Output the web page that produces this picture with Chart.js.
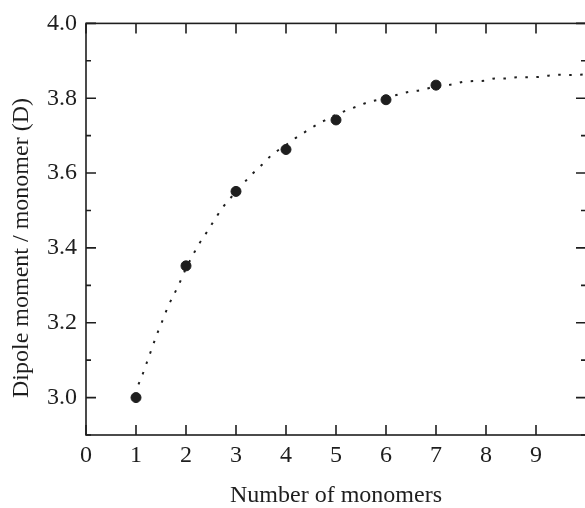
<!DOCTYPE html>
<html>
<head>
<meta charset="utf-8">
<script src="https://cdn.jsdelivr.net/npm/chart.js@4.4.1/dist/chart.umd.min.js"></script>
<style>
  html, body { margin: 0; padding: 0; background: #fff; overflow: hidden; }
  #wrap { width: 585px; height: 508px; overflow: hidden; }
</style>
</head>
<body>
<div id="wrap"><canvas id="dipoleChart" width="592" height="508"></canvas></div>
<script>
// Ticks
const xTickValues = [0, 1, 2, 3, 4, 5, 6, 7, 8, 9, 10];
const yTickValues = [3.0, 3.2, 3.4, 3.6, 3.8, 4.0];
const yMinorValues = [2.9, 3.1, 3.3, 3.5, 3.7, 3.9];

// Calculated points
const monomers = [1, 2, 3, 4, 5, 6, 7];
const dipole = [3.0, 3.352, 3.551, 3.663, 3.742, 3.796, 3.835];

// Fitted curve
const fitX = [1.05, 1.14, 1.22, 1.30, 1.38, 1.45, 1.55, 1.63, 1.85, 2.0, 2.26, 2.44, 2.58, 2.74, 3.0,
              3.32, 3.52, 3.72, 4.0, 4.15, 4.37, 4.56, 4.78, 5.0, 5.2, 5.42, 5.63, 6.0, 6.27, 6.49,
              6.71, 7.0, 7.33, 7.55, 7.77, 7.99, 8.18, 8.40, 8.62, 8.84, 9.06, 9.27, 9.47, 9.67, 9.87, 10.0];
const fitY = [3.035, 3.065, 3.095, 3.125, 3.155, 3.18, 3.212, 3.24, 3.30, 3.345, 3.41, 3.447, 3.477, 3.509, 3.55,
              3.597, 3.622, 3.649, 3.675, 3.69, 3.709, 3.725, 3.741, 3.756, 3.767, 3.778, 3.789, 3.80, 3.811, 3.818,
              3.822, 3.832, 3.837, 3.844, 3.846, 3.847, 3.853, 3.853, 3.856, 3.856, 3.857, 3.861, 3.863, 3.862, 3.863, 3.864];

const inkColor = '#1e1e1e';
const serif = "'Liberation Serif', 'DejaVu Serif', serif";

// Frame, inward ticks and the vertical axis title
const frameTicks = {
    id: 'frameTicks',
    afterDraw(chart) {
        const ctx = chart.ctx;
        const area = chart.chartArea;
        const xs = chart.scales.x;
        const ys = chart.scales.y;
        ctx.save();
        ctx.strokeStyle = inkColor;
        ctx.lineWidth = 1.6;
        ctx.strokeRect(area.left, area.top, area.right - area.left, area.bottom - area.top);

        ctx.beginPath();
        xTickValues.forEach(v => {
            const px = xs.getPixelForValue(v);
            ctx.moveTo(px, area.bottom); ctx.lineTo(px, area.bottom - 10);
            ctx.moveTo(px, area.top); ctx.lineTo(px, area.top + 10);
        });
        yTickValues.forEach(v => {
            const py = ys.getPixelForValue(v);
            ctx.moveTo(area.left, py); ctx.lineTo(area.left + 10, py);
            ctx.moveTo(area.right, py); ctx.lineTo(area.right - 10, py);
        });
        yMinorValues.forEach(v => {
            const py = ys.getPixelForValue(v);
            ctx.moveTo(area.left, py); ctx.lineTo(area.left + 5, py);
            ctx.moveTo(area.right, py); ctx.lineTo(area.right - 5, py);
        });
        ctx.stroke();

        // y axis title, placed like the original (a bit below center)
        ctx.translate(22, 248);
        ctx.rotate(-Math.PI / 2);
        ctx.fillStyle = inkColor;
        ctx.font = '24px ' + serif;
        ctx.textAlign = 'center';
        ctx.textBaseline = 'middle';
        ctx.fillText('Dipole moment / monomer (D)', 0, 0);
        ctx.restore();
    }
};

new Chart(document.getElementById('dipoleChart'), {
    type: 'scatter',
    data: {
        datasets: [
            {
                label: 'Fit',
                type: 'line',
                data: fitX.map((x, i) => ({ x: x, y: fitY[i] })),
                borderColor: inkColor,
                borderWidth: 2,
                borderDash: [2.5, 8.5],
                pointRadius: 0,
                tension: 0.4,
                cubicInterpolationMode: 'monotone',
                fill: false
            },
            {
                label: 'Calculated',
                data: monomers.map((x, i) => ({ x: x, y: dipole[i] })),
                backgroundColor: inkColor,
                borderColor: inkColor,
                pointRadius: 5,
                pointHoverRadius: 5
            }
        ]
    },
    options: {
        responsive: false,
        animation: false,
        layout: { padding: { top: 22, right: 2, left: 0, bottom: 0 } },
        plugins: {
            legend: { display: false },
            tooltip: { enabled: false }
        },
        scales: {
            x: {
                type: 'linear',
                min: 0,
                max: 10,
                afterBuildTicks: scale => { scale.ticks = xTickValues.map(v => ({ value: v })); },
                afterFit: scale => { scale.height = 73; },
                grid: { display: false, drawTicks: false },
                border: { display: false },
                ticks: {
                    color: inkColor,
                    font: { family: serif, size: 24 },
                    padding: 6,
                    maxRotation: 0,
                    callback: v => (v < 10 ? String(v) : '')
                },
                title: {
                    display: true,
                    text: 'Number of monomers',
                    color: inkColor,
                    font: { family: serif, size: 24, lineHeight: 1 },
                    padding: { top: 0, bottom: 0 }
                }
            },
            y: {
                type: 'linear',
                min: 2.9,
                max: 4.0,
                afterBuildTicks: scale => { scale.ticks = yTickValues.map(v => ({ value: v })); },
                afterFit: scale => { scale.width = 86; },
                grid: { display: false, drawTicks: false },
                border: { display: false },
                ticks: {
                    color: inkColor,
                    font: { family: serif, size: 24 },
                    padding: 9,
                    callback: v => v.toFixed(1)
                }
            }
        }
    },
    plugins: [frameTicks]
});
</script>
</body>
</html>
